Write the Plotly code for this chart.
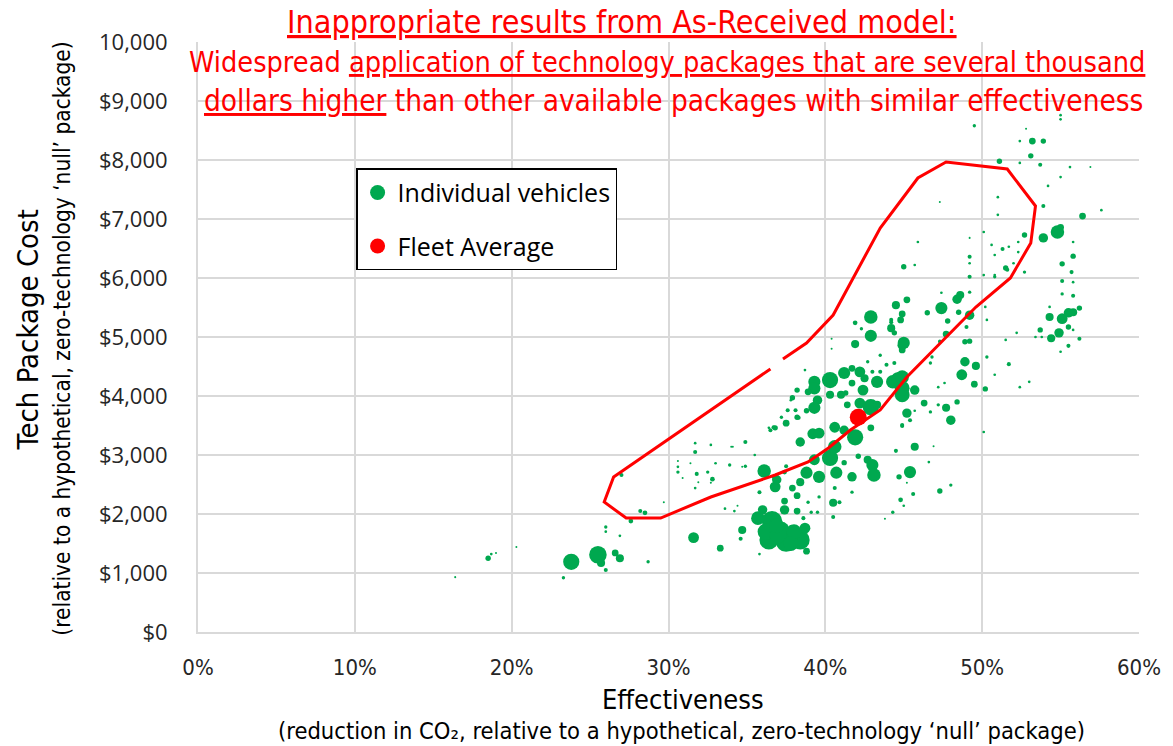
import plotly.graph_objects as go

# ---- individual vehicles: effectiveness (%), tech package cost ($), marker size ----
eff = [
    18.5, 18.7, 16.4, 23.8, 25.5, 25.7, 26.6, 26.9, 26.0, 23.3, 28.7, 26.0, 26.0, 26.9, 27.6, 28.2,
    28.5, 27.0, 31.6, 31.7, 30.6, 29.7, 20.3, 19.0, 30.6, 31.7, 31.8, 32.5, 32.8, 33.0, 31.7, 31.9,
    33.9, 34.1, 34.9, 34.9, 35.5, 35.8, 36.1, 33.6, 34.2, 36.0, 35.7, 36.5, 36.8, 30.6, 31.4, 30.9,
    33.3, 34.7, 34.6, 36.6, 36.4, 36.2, 37.2, 37.5, 38.1, 38.4, 38.7, 38.8, 37.4, 37.4, 38.2, 38.6,
    37.8, 35.8, 36.8, 36.9, 37.4, 37.5, 37.9, 38.2, 38.4, 38.8, 38.4, 38.9, 39.1, 39.5, 39.6, 39.6,
    39.3, 40.5, 40.7, 40.6, 40.9, 40.5, 41.2, 41.7, 40.3, 34.7, 32.7, 34.4,
    37.0, 38.0, 37.8, 36.9,
    42.9, 41.9, 44.9, 44.9, 41.2, 40.3, 39.3, 39.3, 38.9, 38.2, 37.9, 39.5, 39.3, 38.8, 38.2, 37.6,
    38.1, 37.5, 37.2, 36.7, 39.2, 39.6, 40.6, 41.2, 40.6, 41.9, 42.9, 42.9, 43.3, 42.2, 41.4, 41.0,
    40.3, 41.3, 42.4, 41.7, 42.5, 42.2, 41.7, 43.3, 43.0, 43.5, 43.9, 44.4, 44.3, 44.6, 44.9, 44.9,
    44.9, 45.7, 45.2, 44.9, 45.4, 45.7, 44.5, 46.3, 46.7, 47.7, 48.0, 46.7, 46.8, 47.3, 47.6, 43.5,
    44.4, 42.7, 37.8, 38.3, 36.7, 41.7, 42.1, 42.7, 43.0, 43.1, 44.7, 45.4, 46.6, 45.7, 42.9, 41.9,
    42.3, 44.2, 40.4, 40.4, 38.7, 32.7, 34.0, 36.4,
    45.0, 49.2, 49.2, 51.5, 50.8, 52.7, 55.1, 55.7, 45.2, 44.5, 47.4, 48.4, 48.6, 46.5, 44.9, 44.8,
    44.2, 44.2, 48.5, 47.8, 49.2, 49.0, 47.7, 45.0, 49.2, 48.9, 47.3, 48.9, 49.6, 48.7, 49.5, 50.2,
    48.4, 44.9, 51.7, 54.3, 54.4, 54.9, 55.1, 55.5, 55.8, 55.5, 53.7, 55.5, 50.1, 47.2, 47.2, 50.3,
    50.8, 52.4, 53.0, 52.2, 51.5, 45.7, 47.4, 50.1, 52.0, 54.3, 55.0, 49.2, 49.2, 49.2, 49.5, 47.3,
    45.9,
    55.0, 55.0, 53.2, 53.9, 53.1, 51.1, 53.7, 52.4, 53.9, 56.4, 54.8, 55.0, 53.9, 52.7, 51.3, 51.6,
    55.8, 55.1, 55.8, 55.1, 56.2, 56.2, 51.0, 51.0, 50.1, 50.6, 51.7, 52.3, 52.3, 50.8, 50.8, 54.2,
    55.0, 55.6, 56.9, 57.6, 52.4, 52.8, 55.8, 55.8, 55.8, 53.8, 53.4, 50.3, 50.2,
    47.3, 48.0, 45.6, 44.8, 45.0, 44.3, 43.8, 45.2, 46.9,
]
cost = [
    1250, 1320, 930, 1190, 1310, 1170, 1340, 1250, 1050, 920, 1190, 1780, 1700, 1630, 1880, 2050,
    2020, 2660, 1600, 3050, 2710, 2200, 1440, 1340, 2800, 3200, 2680, 2710, 2590, 2860, 2440, 2540,
    2830, 3140, 3220, 2810, 3000, 2370, 2730, 2090, 2050, 2070, 1930, 3420, 3460, 2900, 2860, 2610,
    1420, 1730, 1580, 1880, 1560, 1700, 1730, 1530, 1610, 1560, 1760, 1370, 2070, 2220, 2050, 1930,
    1780, 1320, 2460, 2580, 2710, 2810, 2440, 2310, 2540, 2700, 3220, 2200, 2030, 2030, 2630, 2290,
    2920, 2190, 2700, 2440, 2200, 1950, 2870, 2370, 2950, 2800, 2530, 2140,
    1650, 1700, 1500, 1800,
    5020, 4880, 4860, 4780, 4390, 4270, 4240, 4130, 4070, 4100, 3970, 3930, 3800, 3750, 3640, 3760,
    3760, 3540, 3640, 3470, 3360, 3370, 3470, 3420, 3140, 3300, 3460, 3810, 3850, 3880, 3850, 4020,
    4020, 4050, 4100, 4220, 4300, 4410, 4470, 4240, 4410, 4410, 4530, 4560, 4240, 4300, 4320, 4020,
    4130, 4100, 3710, 3490, 3590, 3140, 3070, 3880, 3730, 3800, 3590, 4560, 4660, 4920, 4220, 4690,
    5070, 4580, 3930, 3630, 2630, 2630, 2980, 2920, 2830, 2660, 2630, 2710, 2880, 3750, 5340, 5240,
    5140, 5290, 4970, 4800, 4440, 3170, 3140, 3460,
    6190, 6250, 6020, 6170, 6020, 6100, 6240, 6100, 5630, 5540, 5490, 5640, 5710, 5410, 5390, 5290,
    5150, 5250, 5420, 5270, 5370, 5170, 5050, 4900, 4930, 4920, 4930, 4580, 4510, 4360, 4200, 4120,
    3900, 3510, 4540, 5340, 4980, 5070, 5310, 5410, 5420, 5170, 5120, 4850, 3390, 3850, 4150, 4660,
    4360, 4150, 4240, 5070, 4950, 6220, 5750, 6050, 6250, 5510, 4750, 6360, 5760, 6680, 8580, 7290,
    6610,
    8760, 8690, 8320, 8320, 8070, 7980, 7920, 7950, 7220, 7050, 6780, 6860, 6680, 6730, 6490, 6140,
    6370, 5950, 5700, 5730, 5490, 4970, 7370, 7070, 6780, 6560, 6530, 6440, 6610, 6390, 6050, 7560,
    7710, 7880, 7880, 7150, 8320, 8530, 6610, 5930, 5120, 5000, 5000, 5290, 5510,
    2390, 2490, 2340, 2240, 2140, 2030, 1920, 2530, 3150,
]
msize = [
    4, 2, 1.5, 12, 13, 6, 5, 6, 3, 2.5, 2.5, 2.5, 2, 2, 3.5, 3,
    3.5, 3, 8, 3, 2.5, 1.5, 1.5, 1.5, 2, 2, 3, 2.5, 3.5, 2, 2, 1.5,
    2.5, 1.5, 3, 2.5, 2, 3, 10, 2, 2, 7, 10, 3, 4, 1.5, 1.5, 1.5,
    5, 6, 3, 15, 14, 12, 12, 15, 13, 14, 8, 5, 7, 5, 5, 3,
    3, 2, 8, 7, 3.5, 3, 5, 5, 6, 9, 7, 2.5, 2.5, 2.5, 9, 2.5,
    8, 6, 9, 3, 3, 3, 4, 2.5, 12, 1.5, 1.5, 1.5,
    13, 11, 11, 11,
    9, 6, 7, 5, 9, 12, 9, 9, 5, 4, 4, 7, 9, 4, 4, 3,
    3, 5, 2.5, 3, 8, 8, 8, 7, 10, 12, 5, 12, 6, 8, 5, 6,
    6, 4, 8, 5, 6, 8, 5, 9, 3, 3, 3, 3, 10, 9, 10, 11,
    11, 7, 7, 3, 3, 6, 3, 5, 2.5, 6, 7, 2.5, 2.5, 2.5, 2, 2.5,
    4, 2.5, 2, 3, 3, 7, 4, 6, 9, 10, 4, 9, 2, 2, 10, 3.5,
    2.5, 3, 1.5, 1.5, 2, 2, 1.5, 2,
    4, 2, 3, 4, 2.5, 2.5, 4, 3, 5, 6, 9, 7, 6, 4, 5, 5,
    6, 3, 4, 4, 7, 3, 5, 9, 4, 4, 2.5, 7, 6, 8, 5, 4,
    4, 3, 3, 6, 6, 7, 8, 7, 6, 4, 4, 3, 2, 2.5, 2, 2.5,
    2, 2, 2, 2, 2, 2, 2, 2, 2, 2, 2, 3, 2.5, 1.5, 2.5, 1.5,
    2,
    2, 2, 5, 4, 4, 4, 3, 2, 3, 5, 10, 5, 7, 4, 3, 3,
    4, 3, 3, 2.5, 4, 3, 2, 2, 2, 2, 2, 2, 2, 2, 2, 2,
    2, 2, 1.5, 2, 2, 1.5, 2, 2, 2, 2, 2, 2, 2,
    4, 2.5, 3, 3.5, 2, 2.5, 1.5, 1.5, 1.5,
]

# fleet average
fleet_eff = [42.1]
fleet_cost = [3640]

# hand drawn outline of the "inappropriate" packages (gap in the line kept)
outline_eff = [36.5, 26.5, 25.9, 27.3, 29.5, 32.7, 36.8, 38.9, 40.2, 41.6, 43.5, 45.2, 49.6, 51.8,
               53.1, 53.4, 51.6, 47.7, 45.9, 43.5, 40.5, 38.8, 37.3]
outline_cost = [4458, 2627, 2203, 1932, 1932, 2288, 2661, 2881, 3119, 3424, 3763, 4322, 5508, 6000,
                6593, 7220, 7847, 7966, 7695, 6847, 5373, 4898, 4627]

# axis ticks
x_ticks = [0, 10, 20, 30, 40, 50, 60]
x_ticktext = ['0%', '10%', '20%', '30%', '40%', '50%', '60%']
y_ticks = [0, 1000, 2000, 3000, 4000, 5000, 6000, 7000, 8000, 9000, 10000]
y_ticktext = ['$0', '$1,000', '$2,000', '$3,000', '$4,000', '$5,000', '$6,000', '$7,000',
              '$8,000', '$9,000', '10,000']

GREEN = '#00a84f'
RED = '#ff0000'
NARROW = 'Liberation Sans Narrow, DejaVu Sans Condensed, Arial Narrow, sans-serif'
BODY = 'Open Sans, Noto Sans, sans-serif'
U_OPEN = '<span style="text-decoration:underline;text-decoration-thickness:3px">'
U_CLOSE = '</span>'

fig = go.Figure()
fig.add_trace(go.Scatter(x=eff, y=cost, mode='markers', showlegend=False, hoverinfo='x+y',
                         marker=dict(color=GREEN, size=msize, sizemode='diameter', sizeref=0.74,
                                     opacity=1, line=dict(width=0))))
fig.add_trace(go.Scatter(x=outline_eff, y=outline_cost, mode='lines', showlegend=False,
                         line=dict(color=RED, width=3)))
fig.add_trace(go.Scatter(x=fleet_eff, y=fleet_cost, mode='markers', showlegend=False,
                         marker=dict(color=RED, size=17, opacity=1)))

# legend entries
fig.add_trace(go.Scatter(x=[None], y=[None], mode='markers', name='Individual vehicles',
                         legendgroup='a', marker=dict(color=GREEN, size=15)))
fig.add_trace(go.Scatter(x=[None], y=[None], mode='markers', name='Fleet Average',
                         legendgroup='b', marker=dict(color=RED, size=15)))

fig.update_xaxes(range=[0, 60], tickvals=x_ticks, ticktext=x_ticktext,
                 showgrid=True, gridcolor='#d9d9d9', gridwidth=2, zeroline=False,
                 showline=True, linecolor='#d9d9d9', linewidth=2, ticks='',
                 ticklabelstandoff=15, tickfont=dict(size=22, color='#262626', family=NARROW))
fig.update_yaxes(range=[0, 10000], tickvals=y_ticks, ticktext=y_ticktext,
                 showgrid=True, gridcolor='#d9d9d9', gridwidth=2, zeroline=False,
                 showline=True, linecolor='#d9d9d9', linewidth=2, ticks='',
                 ticklabelstandoff=24, tickfont=dict(size=22, color='#262626', family=BODY))

annots = [
    dict(x=-0.181, y=0.512, text='Tech Package Cost', textangle=-90,
         font=dict(size=29, color='black', family=NARROW)),
    dict(x=-0.144, y=0.498, text='(relative to a hypothetical, zero-technology \u2018null\u2019 package)',
         textangle=-90, font=dict(size=22.5, color='black', family=NARROW)),
    dict(x=0.515, y=-0.115, text='Effectiveness', font=dict(size=27, color='black', family=NARROW)),
    dict(x=0.514, y=-0.168,
         text='(reduction in CO\u2082, relative to a hypothetical, zero-technology \u2018null\u2019 package)',
         font=dict(size=23.5, color='black', family=NARROW)),
    dict(x=0.451, y=1.034, text=U_OPEN + 'Inappropriate results from As-Received model:' + U_CLOSE,
         font=dict(size=32, color=RED, family=NARROW)),
    dict(x=0.498, y=0.966,
         text='Widespread ' + U_OPEN + 'application of technology packages that are several thousand' + U_CLOSE,
         font=dict(size=28.6, color=RED, family=NARROW)),
    dict(x=0.505, y=0.900,
         text=U_OPEN + 'dollars higher' + U_CLOSE + ' than other available packages with similar effectiveness',
         font=dict(size=29.5, color=RED, family=NARROW)),
]
for a in annots:
    fig.add_annotation(xref='paper', yref='paper', showarrow=False, xanchor='center',
                       yanchor='middle', **a)

fig.update_layout(
    width=1173, height=746,
    margin=dict(l=198, r=30, t=42, b=114),
    plot_bgcolor='white', paper_bgcolor='white',
    font=dict(family=BODY),
    legend=dict(x=0.168, y=0.786, xanchor='left', yanchor='top', bgcolor='white',
                bordercolor='black', borderwidth=1.5, tracegroupgap=18,
                font=dict(size=25, color='black', family=BODY)),
)

fig.write_html("out.html", config={'displayModeBar': False},
               post_script="document.body.style.margin='0';")
